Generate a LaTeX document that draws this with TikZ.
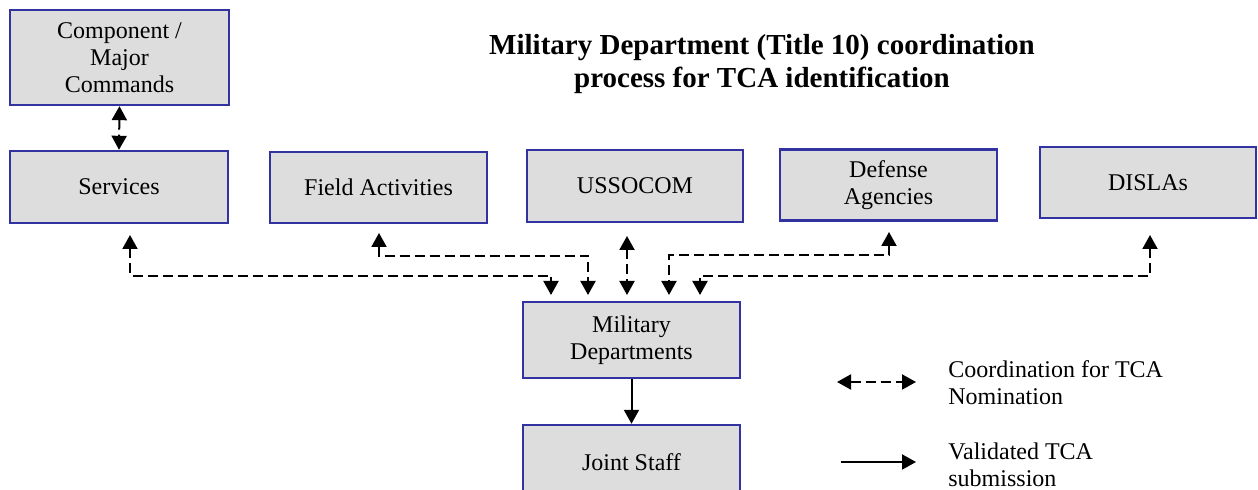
\documentclass[tikz,border=0pt]{standalone}
\usepackage{fontspec}
\setmainfont{Liberation Serif}
\usetikzlibrary{arrows.meta}
\definecolor{boxborder}{RGB}{50,50,160}
\definecolor{boxfill}{RGB}{221,221,221}
\begin{document}
\begin{tikzpicture}[x=0.5pt,y=-0.5pt,
  box/.style={draw=boxborder, line width=1.2pt, fill=boxfill, align=center,
    font=\fontsize{12}{13.5}\selectfont, inner sep=0pt},
  coord/.style={dashed, dash pattern=on 5pt off 2.5pt, line width=1pt, {Triangle[width=7.5pt,length=7pt]}-{Triangle[width=7.5pt,length=7pt]}},
  valid/.style={line width=1pt, -{Triangle[width=7.5pt,length=7pt]}},
  legtext/.style={anchor=west, align=left, font=\fontsize{12}{13.5}\selectfont, inner sep=0pt}]
\useasboundingbox (0,0) rectangle (1258,490);
\fill[white] (0,0) rectangle (1258,490);

\node[font=\bfseries\fontsize{14.5}{16.5}\selectfont, align=center] (title) at (762,64)
  {Military Department (Title 10) coordination\\process for TCA identification};

\node[box, minimum width=109.5pt, minimum height=47.5pt] (cmp) at (119.5,57.5) {Component /\\Major\\Commands};
\node[box, minimum width=109pt, minimum height=36pt] (svc) at (119,187) {Services};
\node[box, minimum width=108.5pt, minimum height=35.5pt] (fa) at (378.5,187.5) {Field Activities};
\node[box, minimum width=108pt, minimum height=36pt] (us) at (635,186) {USSOCOM};
\node[box, minimum width=108.5pt, minimum height=35.5pt] (da) at (888.5,185) {Defense\\Agencies};
\node[box, minimum width=108pt, minimum height=35.5pt] (di) at (1148,182.5) {DISLAs};
\node[box, minimum width=108.5pt, minimum height=38pt] (mil) at (631.5,340) {Military\\Departments};
\node[box, minimum width=108.5pt, minimum height=37pt] (js) at (631.5,462) {Joint Staff};

% component <-> services
\draw[coord] (cmp.south) -- (svc.north);

% coordination connectors
\coordinate (s1) at (130,235); \coordinate (s2) at (130,276);
\coordinate (s3) at (551,276); \coordinate (s4) at (551,295);
\draw[coord] (s1) -- (s2) -- (s3) -- (s4);

\coordinate (f1) at (379,233); \coordinate (f2) at (379,256);
\coordinate (f3) at (588,256); \coordinate (f4) at (588,295);
\draw[coord] (f1) -- (f2) -- (f3) -- (f4);

\coordinate (u1) at (627,236); \coordinate (u2) at (627,295);
\draw[coord] (u1) -- (u2);

\coordinate (d1) at (889,232); \coordinate (d2) at (889,255);
\coordinate (d3) at (669,255); \coordinate (d4) at (669,295);
\draw[coord] (d1) -- (d2) -- (d3) -- (d4);

\coordinate (i1) at (1150,235); \coordinate (i2) at (1150,276);
\coordinate (i3) at (700,276); \coordinate (i4) at (700,295);
\draw[coord] (i1) -- (i2) -- (i3) -- (i4);

% validated submission
\draw[valid] (mil.south) -- (js.north);

% legend
\coordinate (l1a) at (837,382); \coordinate (l1b) at (916,382);
\draw[coord] (l1a) -- (l1b);
\node[legtext] (lt1) at (948,383) {Coordination for TCA\\Nomination};
\coordinate (l2a) at (841,462); \coordinate (l2b) at (916,462);
\draw[valid] (l2a) -- (l2b);
\node[legtext] (lt2) at (948,465) {Validated TCA\\submission};
\end{tikzpicture}
\end{document}
